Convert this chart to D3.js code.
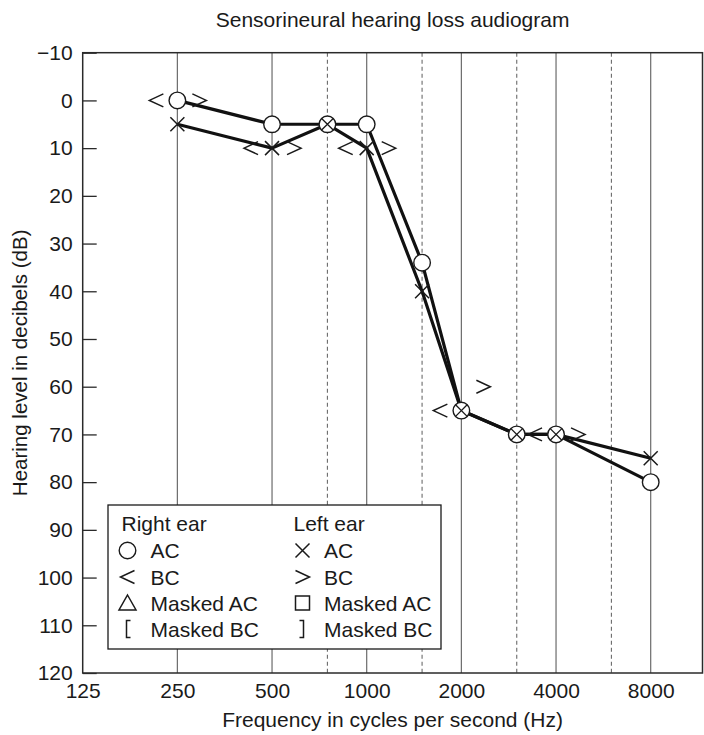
<!DOCTYPE html>
<html>
<head>
<meta charset="utf-8">
<script src="https://cdn.jsdelivr.net/npm/d3@7"></script>
<style>
  body { margin: 0; background: #fff; }
  svg { display: block; font-family: "Liberation Sans", Arial, Helvetica, sans-serif; }
</style>
</head>
<body>
<svg id="chart" width="704" height="735"></svg>
<script>
// Audiogram data (hearing level in dB HL per test frequency)
const frequencies = [250, 500, 750, 1000, 1500, 2000, 3000, 4000, 8000];
const rightAC = [0, 5, 5, 5, 34, 65, 70, 70, 80];
const leftAC = [5, 10, 5, 10, 40, 65, 70, 70, 75];

const bcFrequencies = [250, 500, 1000, 2000, 4000];
const rightBC = [0, 10, 10, 65, 70];
const leftBC = [0, 10, 10, 60, 70];

// Axis ticks
const octaveTicks = [125, 250, 500, 1000, 2000, 4000, 8000];
const halfOctaveTicks = [750, 1500, 3000, 6000];
const dbTicks = [-10, 0, 10, 20, 30, 40, 50, 60, 70, 80, 90, 100, 110, 120];

// Legend entries
const legendRight = { title: "Right ear", items: [["circle", "AC"], ["lt", "BC"], ["triangle", "Masked AC"], ["lbracket", "Masked BC"]] };
const legendLeft = { title: "Left ear", items: [["cross", "AC"], ["gt", "BC"], ["square", "Masked AC"], ["rbracket", "Masked BC"]] };

const svg = d3.select("#chart");
const plot = { left: 82.7, top: 52.7, right: 702.5, bottom: 673 };
const FONT = 21;
const INK = "#1a1a1a";

const x = d3.scaleLog().base(2).domain([125, 8000]).range([plot.left, 650.7]);
const y = d3.scaleLinear().domain([-10, 120]).range([plot.top, plot.bottom]);

// Vertical grid: solid at octaves, dashed at half-octaves
svg.append("g").selectAll("line").data(octaveTicks.filter(f => f > 125)).join("line")
  .attr("x1", d => x(d)).attr("x2", d => x(d))
  .attr("y1", plot.top).attr("y2", plot.bottom)
  .attr("stroke", "#6b6b6b").attr("stroke-width", 1.2);
svg.append("g").selectAll("line").data(halfOctaveTicks).join("line")
  .attr("x1", d => x(d)).attr("x2", d => x(d))
  .attr("y1", plot.top).attr("y2", plot.bottom)
  .attr("stroke", "#6b6b6b").attr("stroke-width", 1.1)
  .attr("stroke-dasharray", "4,3");

// Symbol paths, centred on the origin
const symbolPath = {
  lt: "M7,-6.5L-7,0L7,6.5",
  gt: "M-7,-6.5L7,0L-7,6.5",
  cross: "M-7,-7L7,7M-7,7L7,-7",
  triangle: "M0,-8L8.5,7L-8.5,7Z",
  square: "M-7,-7H7V7H-7Z",
  lbracket: "M3,-8.5H-1V8.5H3",
  rbracket: "M-3,-8.5H1V8.5H-3"
};
function drawSymbol(g, kind, cx, cy) {
  if (kind === "circle") {
    g.append("circle").attr("cx", cx).attr("cy", cy).attr("r", 8.3)
      .attr("fill", "#fff").attr("stroke", INK).attr("stroke-width", 1.4);
  } else {
    g.append("path").attr("d", symbolPath[kind])
      .attr("transform", `translate(${cx},${cy})`)
      .attr("fill", kind === "triangle" || kind === "square" ? "#fff" : "none")
      .attr("stroke", INK).attr("stroke-width", 1.5);
  }
}

// Legend box
const legend = svg.append("g");
legend.append("rect").attr("x", 108).attr("y", 505).attr("width", 333).attr("height", 144)
  .attr("fill", "#fff").attr("stroke", INK).attr("stroke-width", 1.3);
const rowY = [523, 550.5, 577, 603, 629];
[[legendRight, 121.5, 127.5, 150.5], [legendLeft, 293.5, 302.5, 324]].forEach(([col, tx, sx, lx]) => {
  legend.append("text").attr("x", tx).attr("y", rowY[0]).attr("dy", "0.36em")
    .attr("font-size", FONT).attr("fill", INK).text(col.title);
  col.items.forEach(([kind, label], i) => {
    drawSymbol(legend, kind, sx, rowY[i + 1]);
    legend.append("text").attr("x", lx).attr("y", rowY[i + 1]).attr("dy", "0.36em")
      .attr("font-size", FONT).attr("fill", INK).text(label);
  });
});

// Plot frame
svg.append("rect").attr("x", plot.left).attr("y", plot.top)
  .attr("width", plot.right - plot.left).attr("height", plot.bottom - plot.top)
  .attr("fill", "none").attr("stroke", "#2a2a2a").attr("stroke-width", 1.5);

// Y axis with inward ticks
const yAxis = svg.append("g").attr("transform", `translate(${plot.left},0)`)
  .call(d3.axisLeft(y).tickValues(dbTicks).tickSize(-14).tickPadding(10).tickFormat(d3.format("d")));
yAxis.select(".domain").remove();
yAxis.selectAll(".tick line").attr("stroke", "#2a2a2a").attr("stroke-width", 1.3);
yAxis.selectAll("text").attr("font-size", FONT).attr("font-family", "Liberation Sans, Arial, sans-serif").attr("fill", INK);

// X axis labels
const xAxis = svg.append("g").attr("transform", `translate(0,${plot.bottom})`)
  .call(d3.axisBottom(x).tickValues(octaveTicks).tickSize(0).tickPadding(10).tickFormat(d3.format("d")));
xAxis.select(".domain").remove();
xAxis.selectAll("text").attr("font-size", FONT).attr("font-family", "Liberation Sans, Arial, sans-serif").attr("fill", INK);

// Titles
svg.append("text").attr("x", (plot.left + plot.right) / 2).attr("y", 27)
  .attr("text-anchor", "middle").attr("font-size", FONT).attr("fill", INK)
  .text("Sensorineural hearing loss audiogram");
svg.append("text").attr("x", (plot.left + plot.right) / 2).attr("y", 727)
  .attr("text-anchor", "middle").attr("font-size", FONT).attr("fill", INK)
  .text("Frequency in cycles per second (Hz)");
svg.append("text").attr("transform", `translate(27,${(plot.top + plot.bottom) / 2}) rotate(-90)`)
  .attr("text-anchor", "middle").attr("font-size", 20.5).attr("fill", INK)
  .text("Hearing level in decibels (dB)");

// Air-conduction traces
const line = d3.line().x(d => x(d[0])).y(d => y(d[1]));
const rightPts = frequencies.map((f, i) => [f, rightAC[i]]);
const leftPts = frequencies.map((f, i) => [f, leftAC[i]]);
[leftPts, rightPts].forEach(pts => {
  svg.append("path").attr("d", line(pts)).attr("fill", "none")
    .attr("stroke", "#111").attr("stroke-width", 3.2).attr("stroke-linejoin", "round");
});

// Bone-conduction symbols beside each frequency line
const bc = svg.append("g");
bcFrequencies.forEach((f, i) => {
  drawSymbol(bc, "lt", x(f) - 21, y(rightBC[i]));
  drawSymbol(bc, "gt", x(f) + 22, y(leftBC[i]));
});

// Air-conduction markers; coinciding ears share a crossed circle
const marks = svg.append("g");
frequencies.forEach((f, i) => {
  const cx = x(f);
  if (rightAC[i] === leftAC[i]) {
    const cy = y(rightAC[i]);
    drawSymbol(marks, "circle", cx, cy);
    marks.append("path").attr("d", "M-5.8,-5.8L5.8,5.8M-5.8,5.8L5.8,-5.8")
      .attr("transform", `translate(${cx},${cy})`)
      .attr("stroke", INK).attr("stroke-width", 1.3).attr("fill", "none");
  } else {
    drawSymbol(marks, "cross", cx, y(leftAC[i]));
    drawSymbol(marks, "circle", cx, y(rightAC[i]));
  }
});
</script>
</body>
</html>
